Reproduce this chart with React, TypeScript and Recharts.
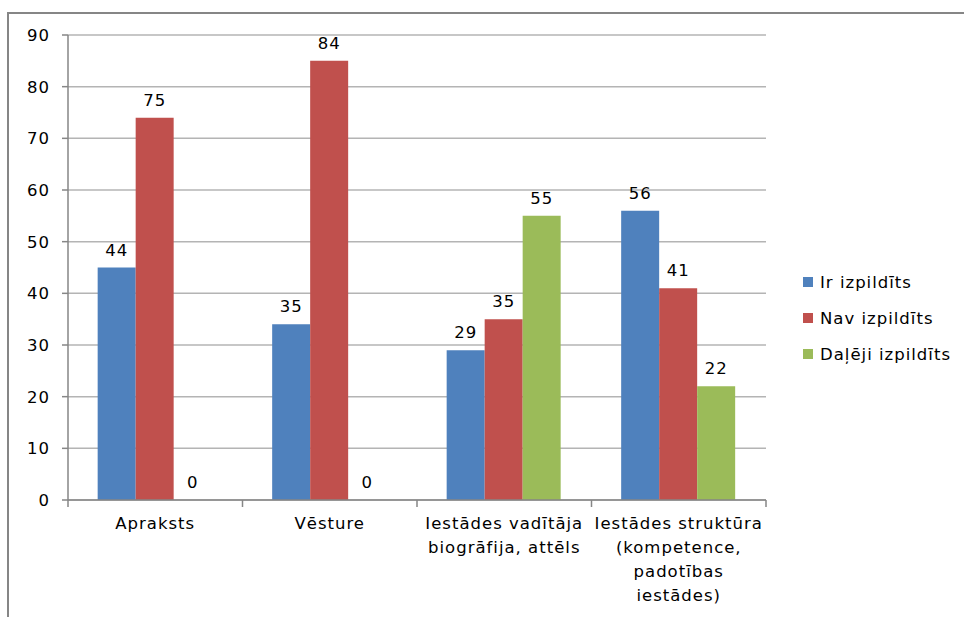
import React from "react";
import { BarChart, Bar, XAxis, YAxis, CartesianGrid, Legend, LabelList } from "recharts";

const categories = [
  "Apraksts",
  "Vēsture",
  "Iestādes vadītāja\nbiogrāfija, attēls",
  "Iestādes struktūra\n(kompetence,\npadotības\niestādes)",
];
const seriesNames = ["Ir izpildīts", "Nav izpildīts", "Daļēji izpildīts"];

// bar heights as drawn
const irValues = [45, 34, 29, 56];
const navValues = [74, 85, 35, 41];
const dalejiValues = [0, 0, 55, 22];

// data labels as printed
const irLabels = [44, 35, 29, 56];
const navLabels = [75, 84, 35, 41];
const dalejiLabels = [0, 0, 55, 22];

const yTicks = [0, 10, 20, 30, 40, 50, 60, 70, 80, 90];

const COLORS = ["#4f81bd", "#c0504d", "#9bbb59"];
const AXIS = "#868686";
const GRID = "#b4b4b4";
const FONT = "'DejaVu Sans', sans-serif";

const data = categories.map((name, i) => ({
  name,
  ir: irValues[i],
  nav: navValues[i],
  daleji: dalejiValues[i],
  irLabel: irLabels[i],
  navLabel: navLabels[i],
  dalejiLabel: dalejiLabels[i],
}));

function CategoryTick(props: any) {
  const { x, y, payload, index, visibleTicksCount } = props;
  const half = payload?.offset ?? 0;
  const lines = String(payload.value).split("\n");
  const last = index === visibleTicksCount - 1;
  return (
    <g>
      <line x1={x - half} x2={x - half} y1={y} y2={y + 7} stroke={AXIS} strokeWidth={1.5} />
      {last && <line x1={x + half} x2={x + half} y1={y} y2={y + 7} stroke={AXIS} strokeWidth={1.5} />}
      <text x={x} y={y + 29} textAnchor="middle" fill="#000">
        {lines.map((line, i) => (
          <tspan key={i} x={x} dy={i === 0 ? 0 : 24}>
            {line}
          </tspan>
        ))}
      </text>
    </g>
  );
}

function LegendContent() {
  return (
    <div style={{ fontFamily: FONT, fontSize: 16.5, letterSpacing: "1px", color: "#000" }}>
      {seriesNames.map((name, i) => (
        <div key={name} style={{ display: "flex", alignItems: "center", height: 36, whiteSpace: "nowrap" }}>
          <span style={{ width: 10, height: 10, background: COLORS[i], marginRight: 7, display: "inline-block" }} />
          <span>{name}</span>
        </div>
      ))}
    </div>
  );
}

export default function App() {
  const labelProps = { position: "top" as const, offset: 12, fill: "#000" };
  return (
    <div style={{ position: "absolute", left: 0, top: 0, width: 964, height: 617, background: "#fff" }}>
      <div
        style={{
          position: "absolute",
          left: 7,
          top: 12,
          width: 957,
          height: 605,
          borderTop: `2px solid ${AXIS}`,
          borderLeft: `2px solid ${AXIS}`,
          boxSizing: "border-box",
        }}
      />
      <div style={{ position: "absolute", left: 0, top: 0, fontFamily: FONT, fontSize: 16.5, letterSpacing: "1px" }}>
        <BarChart
          width={964}
          height={617}
          data={data}
          margin={{ top: 35, right: 198, bottom: 0, left: 8 }}
          barCategoryGap="17%"
          barGap={0}
        >
          <CartesianGrid horizontal vertical={false} stroke={GRID} strokeWidth={1.5} />
          <XAxis
            dataKey="name"
            interval={0}
            height={117}
            tickLine={false}
            tickSize={0}
            tickMargin={0}
            axisLine={{ stroke: AXIS, strokeWidth: 1.5 }}
            tick={<CategoryTick />}
          />
          <YAxis
            width={60}
            domain={[0, 90]}
            ticks={yTicks}
            interval={0}
            tickSize={6}
            tickMargin={12}
            axisLine={{ stroke: AXIS, strokeWidth: 1.5 }}
            tickLine={{ stroke: AXIS, strokeWidth: 1.5 }}
            tick={{ fill: "#000", fontSize: 16.5 }}
          />
          <Legend
            layout="vertical"
            align="center"
            verticalAlign="middle"
            wrapperStyle={{ left: 803, top: 264, width: 170 }}
            content={<LegendContent />}
          />
          <Bar dataKey="ir" name={seriesNames[0]} fill={COLORS[0]} isAnimationActive={false}>
            <LabelList dataKey="irLabel" {...labelProps} />
          </Bar>
          <Bar dataKey="nav" name={seriesNames[1]} fill={COLORS[1]} isAnimationActive={false}>
            <LabelList dataKey="navLabel" {...labelProps} />
          </Bar>
          <Bar dataKey="daleji" name={seriesNames[2]} fill={COLORS[2]} minPointSize={0.01} isAnimationActive={false}>
            <LabelList dataKey="dalejiLabel" {...labelProps} />
          </Bar>
        </BarChart>
      </div>
    </div>
  );
}
